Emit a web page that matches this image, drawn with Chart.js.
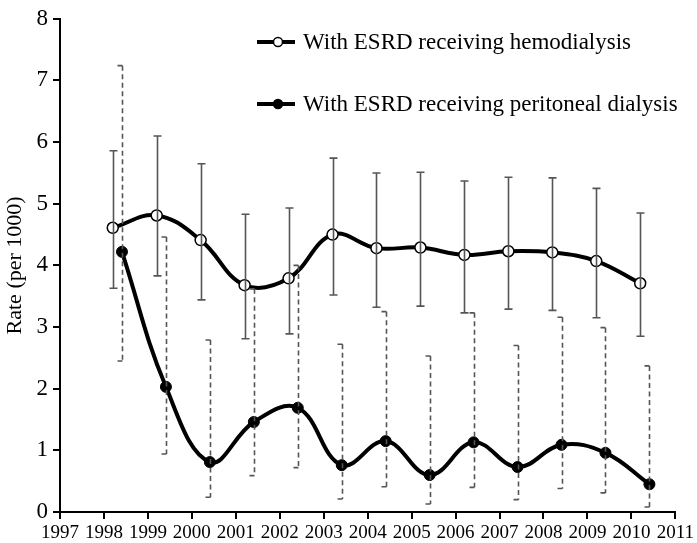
<!DOCTYPE html>
<html>
<head>
<meta charset="utf-8">
<script src="https://cdn.jsdelivr.net/npm/chart.js@4"></script>
<style>
  body { margin: 0; background: #fff; }
  canvas { display: block; }
</style>
</head>
<body>
<canvas id="chart" width="697" height="543"></canvas>
<script>
// Yıllar ve seriler
const years = [1998, 1999, 2000, 2001, 2002, 2003, 2004, 2005, 2006, 2007, 2008, 2009, 2010];

const hemoRate  = [4.61, 4.81, 4.41, 3.68, 3.79, 4.50, 4.28, 4.29, 4.17, 4.23, 4.21, 4.07, 3.71];
const hemoUpper = [5.86, 6.10, 5.65, 4.83, 4.93, 5.74, 5.50, 5.51, 5.37, 5.43, 5.42, 5.25, 4.85];
const hemoLower = [3.63, 3.83, 3.44, 2.81, 2.89, 3.52, 3.32, 3.34, 3.23, 3.29, 3.27, 3.15, 2.85];

const periRate  = [4.22, 2.03, 0.81, 1.46, 1.69, 0.76, 1.15, 0.60, 1.13, 0.73, 1.09, 0.96, 0.45];
const periUpper = [7.24, 4.46, 2.79, 3.62, 4.00, 2.72, 3.25, 2.53, 3.23, 2.70, 3.16, 2.99, 2.37];
const periLower = [2.45, 0.94, 0.24, 0.59, 0.72, 0.21, 0.41, 0.13, 0.40, 0.20, 0.38, 0.31, 0.08];

const xTicks = [1997, 1998, 1999, 2000, 2001, 2002, 2003, 2004, 2005, 2006, 2007, 2008, 2009, 2010, 2011];
const yTicks = [0, 1, 2, 3, 4, 5, 6, 7, 8];

const seriesLabels = ['With ESRD receiving hemodialysis', 'With ESRD receiving peritoneal dialysis'];

const FONT = "'Liberation Serif', 'Times New Roman', serif";

// iki seri yıl içinde biraz kaydırılmış
const HEMO_SHIFT = 0.2;
const PERI_SHIFT = 0.41;

const toPoints = (vals, shift) => vals.map((v, i) => ({ x: years[i] + shift, y: v }));

// Hata çubukları
const errorBarPlugin = {
    id: 'errorBars',
    afterDatasetsDraw(chart) {
        const { ctx, scales: { x, y } } = chart;
        const sets = [
            { up: hemoUpper, lo: hemoLower, shift: HEMO_SHIFT, dash: [], capL: 4, capR: 4 },
            { up: periUpper, lo: periLower, shift: PERI_SHIFT, dash: [5, 3.5], capL: 5, capR: 0 }
        ];
        ctx.save();
        ctx.strokeStyle = '#555';
        ctx.lineWidth = 1.6;
        sets.forEach(s => {
            years.forEach((yr, i) => {
                const px = Math.round(x.getPixelForValue(yr + s.shift)) + 0.5;
                const top = y.getPixelForValue(s.up[i]);
                const bot = y.getPixelForValue(s.lo[i]);
                ctx.setLineDash(s.dash);
                ctx.beginPath();
                ctx.moveTo(px, top);
                ctx.lineTo(px, bot);
                ctx.stroke();
                ctx.setLineDash([]);
                ctx.beginPath();
                ctx.moveTo(px - s.capL, top);
                ctx.lineTo(px + s.capR, top);
                ctx.moveTo(px - s.capL, bot);
                ctx.lineTo(px + s.capR, bot);
                ctx.stroke();
            });
        });
        ctx.restore();
    }
};

// Lejant (çizgi + işaretçi)
const legendPlugin = {
    id: 'customLegend',
    afterDraw(chart, args, opts) {
        const ctx = chart.ctx;
        ctx.save();
        chart.data.datasets.forEach((ds, i) => {
            const yy = opts.rows[i];
            ctx.strokeStyle = '#000';
            ctx.lineWidth = 4;
            ctx.beginPath();
            ctx.moveTo(opts.x, yy);
            ctx.lineTo(opts.x + 38, yy);
            ctx.stroke();
            ctx.beginPath();
            ctx.arc(opts.x + 21, yy, 4.5, 0, Math.PI * 2);
            ctx.fillStyle = ds.pointBackgroundColor;
            ctx.fill();
            ctx.lineWidth = 1.5;
            ctx.stroke();
            ctx.fillStyle = '#000';
            ctx.font = opts.font;
            ctx.textBaseline = 'middle';
            ctx.fillText(ds.label, opts.x + 46, yy + 1);
        });
        ctx.restore();
    }
};

new Chart(document.getElementById('chart'), {
    type: 'line',
    data: {
        datasets: [
            {
                label: seriesLabels[0],
                data: toPoints(hemoRate, HEMO_SHIFT),
                borderColor: '#000',
                borderWidth: 4,
                tension: 0.4,
                pointRadius: 5.5,
                pointBorderWidth: 1.5,
                pointBackgroundColor: '#fff',
                pointBorderColor: '#000',
                clip: false
            },
            {
                label: seriesLabels[1],
                data: toPoints(periRate, PERI_SHIFT),
                borderColor: '#000',
                borderWidth: 4,
                tension: 0.4,
                pointRadius: 5.5,
                pointBorderWidth: 1,
                pointBackgroundColor: '#000',
                pointBorderColor: '#000',
                clip: false
            }
        ]
    },
    options: {
        responsive: false,
        animation: false,
        devicePixelRatio: 1,
        layout: { padding: { top: 10, right: 20, bottom: 0, left: 0 } },
        plugins: {
            legend: { display: false },
            tooltip: { enabled: false },
            customLegend: { x: 257, rows: [42, 104], font: '23px ' + FONT }
        },
        scales: {
            x: {
                type: 'linear',
                min: xTicks[0],
                max: xTicks[xTicks.length - 1],
                afterBuildTicks: s => { s.ticks = xTicks.map(v => ({ value: v })); },
                afterFit: s => { s.height = 31; },
                border: { color: '#000', width: 2 },
                grid: { drawOnChartArea: false, color: '#000', lineWidth: 2, tickLength: 7 },
                ticks: {
                    color: '#000',
                    font: { family: FONT, size: 19 },
                    padding: 3,
                    maxRotation: 0,
                    autoSkip: false,
                    callback: v => String(v)
                }
            },
            y: {
                min: yTicks[0],
                max: yTicks[yTicks.length - 1],
                afterBuildTicks: s => { s.ticks = yTicks.map(v => ({ value: v })); },
                afterFit: s => { s.width = 60; },
                border: { color: '#000', width: 2 },
                grid: { drawOnChartArea: false, color: '#000', lineWidth: 2, tickLength: 7 },
                ticks: {
                    color: '#000',
                    font: { family: FONT, size: 23 },
                    padding: 5,
                    callback: v => String(v)
                },
                title: {
                    display: true,
                    text: 'Rate (per 1000)',
                    color: '#000',
                    font: { family: FONT, size: 22 },
                    padding: { top: 2, bottom: 0 }
                }
            }
        }
    },
    plugins: [errorBarPlugin, legendPlugin]
});
</script>
</body>
</html>
